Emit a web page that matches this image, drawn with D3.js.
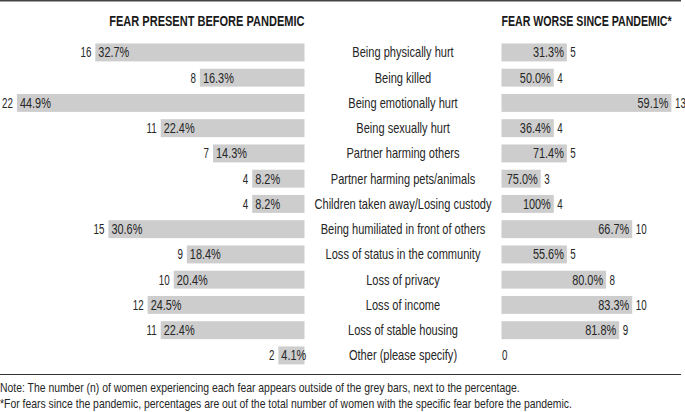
<!DOCTYPE html>
<html>
<head>
<meta charset="utf-8">
<script src="https://cdn.jsdelivr.net/npm/d3@7"></script>
<style>
  html, body { margin: 0; padding: 0; background: #fff; }
  svg { display: block; font-family: "Liberation Sans", Arial, sans-serif; }
</style>
</head>
<body>
<svg id="chart" width="685" height="412"></svg>
<script>
const categories = [
  "Being physically hurt",
  "Being killed",
  "Being emotionally hurt",
  "Being sexually hurt",
  "Partner harming others",
  "Partner harming pets/animals",
  "Children taken away/Losing custody",
  "Being humiliated in front of others",
  "Loss of status in the community",
  "Loss of privacy",
  "Loss of income",
  "Loss of stable housing",
  "Other (please specify)"
];
const beforeCount = [16, 8, 22, 11, 7, 4, 4, 15, 9, 10, 12, 11, 2];
const beforePct = ["32.7%", "16.3%", "44.9%", "22.4%", "14.3%", "8.2%", "8.2%", "30.6%", "18.4%", "20.4%", "24.5%", "22.4%", "4.1%"];
const worseCount = [5, 4, 13, 4, 5, 3, 4, 10, 5, 8, 10, 9, 0];
const worsePct = ["31.3%", "50.0%", "59.1%", "36.4%", "71.4%", "75.0%", "100%", "66.7%", "55.6%", "80.0%", "83.3%", "81.8%", ""];
const titles = ["FEAR PRESENT BEFORE PANDEMIC", "FEAR WORSE SINCE PANDEMIC*"];
const notes = [
  "Note: The number (n) of women experiencing each fear appears outside of the grey bars, next to the percentage.",
  "*For fears since the pandemic, percentages are out of the total number of women with the specific fear before the pandemic."
];

const rows = categories.map((c, i) => ({
  cat: c, bn: beforeCount[i], bp: beforePct[i], wn: worseCount[i], wp: worsePct[i]
}));

const svg = d3.select("#chart");
const barColor = "#cdcdcd";
const textColor = "#262626";

const leftEnd = 304.5;
const rightStart = 501.5;
const labelX = 403;

const w = d3.scaleLinear().domain([0, 22]).range([0, 287.6]);
const y = d3.scaleBand().domain(categories).range([39.8, 39.8 + 13 * 25.25])
  .paddingInner(0.29).paddingOuter(0.145);

// helper: condensed text at (x, y)
function ctext(sel, x, yy, scale) {
  return sel.attr("transform", function(d, i) {
    const xx = typeof x === "function" ? x(d, i) : x;
    const yv = typeof yy === "function" ? yy(d, i) : yy;
    return `translate(${xx},${yv}) scale(${scale},1)`;
  });
}

// top rule and bottom rule
svg.append("line").attr("x1", 0).attr("x2", 681).attr("y1", 0.75).attr("y2", 0.75)
  .attr("stroke", "#444").attr("stroke-width", 1.5);
svg.append("line").attr("x1", 0).attr("x2", 681).attr("y1", 374.5).attr("y2", 374.5)
  .attr("stroke", "#333").attr("stroke-width", 1.2);

// titles
ctext(svg.append("text"), leftEnd, 26, 0.80).attr("text-anchor", "end")
  .attr("font-size", 13.8).attr("font-weight", "bold").attr("fill", "#1a1a1a").text(titles[0]);
ctext(svg.append("text"), rightStart, 26, 0.77).attr("text-anchor", "start")
  .attr("font-size", 13.8).attr("font-weight", "bold").attr("fill", "#1a1a1a").text(titles[1]);

const g = svg.append("g");
const row = g.selectAll("g.row").data(rows).join("g").attr("class", "row");

const fs = 14;
const sLabel = 0.79, sPct = 0.78, sNum = 0.70;
const mid = d => y(d.cat) + y.bandwidth() / 2;

// left bars
row.append("rect")
  .attr("x", d => leftEnd - w(d.bn)).attr("y", d => y(d.cat))
  .attr("width", d => w(d.bn)).attr("height", y.bandwidth())
  .attr("fill", barColor);
ctext(row.append("text"), d => leftEnd - w(d.bn) + 3, mid, sPct).attr("dy", "0.36em")
  .attr("font-size", fs).attr("fill", textColor).text(d => d.bp);
ctext(row.append("text"), d => leftEnd - w(d.bn) - 4, mid, sNum).attr("dy", "0.36em")
  .attr("text-anchor", "end").attr("font-size", fs).attr("fill", textColor).text(d => d.bn);

// category labels
ctext(row.append("text"), labelX, mid, sLabel).attr("dy", "0.36em")
  .attr("text-anchor", "middle").attr("font-size", fs).attr("fill", textColor).text(d => d.cat);

// right bars
row.append("rect")
  .attr("x", rightStart).attr("y", d => y(d.cat))
  .attr("width", d => w(d.wn)).attr("height", y.bandwidth())
  .attr("fill", barColor);
ctext(row.append("text"), d => rightStart + w(d.wn) - 3, mid, sPct).attr("dy", "0.36em")
  .attr("text-anchor", "end").attr("font-size", fs).attr("fill", textColor).text(d => d.wp);
ctext(row.append("text"), d => rightStart + w(d.wn) + (d.wn > 0 ? 3.5 : 0.5), mid, sNum).attr("dy", "0.36em")
  .attr("font-size", fs).attr("fill", textColor).text(d => d.wn);

// notes
ctext(svg.selectAll("text.note").data(notes).join("text").attr("class", "note"),
  0, (d, i) => 392 + i * 16, 0.84)
  .attr("font-size", 12.4).attr("fill", textColor).text(d => d);
</script>
</body>
</html>
